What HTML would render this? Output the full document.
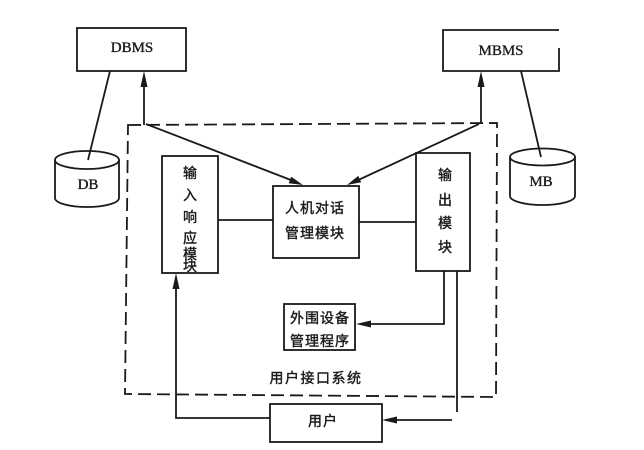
<!DOCTYPE html>
<html><head><meta charset="utf-8"><style>
html,body{margin:0;padding:0;background:#fff;}
svg{display:block;}
.s{font-family:"Liberation Serif",serif;font-size:15px;fill:#1a1a1a;stroke:#1a1a1a;stroke-width:0.35;}
.c{font-family:"Liberation Sans","Noto Sans CJK SC",sans-serif;font-size:14px;fill:#1a1a1a;stroke:#1a1a1a;stroke-width:0.4;}
</style></head><body>
<svg width="644" height="450" viewBox="0 0 644 450" xmlns="http://www.w3.org/2000/svg">
<rect width="644" height="450" fill="#fff"/>
<g stroke="#1a1a1a" stroke-width="1.8" fill="none">
  <path d="M128,125 L497,123 L496,397 L125,394 Z" stroke-dasharray="13 6"/>
  <rect x="77" y="28" width="109" height="43"/>
  <path d="M559,48 L559,71 L443,71 L443,30 L559,30"/>
  <path d="M55,160 L55,198 A32,9 0 0 0 119,198 L119,160"/>
  <ellipse cx="87" cy="160" rx="32" ry="9"/>
  <path d="M510,157 L510,196 A32.5,9 0 0 0 575,196 L575,157"/>
  <ellipse cx="542.5" cy="157" rx="32.5" ry="8.5"/>
  <line x1="110" y1="71" x2="88" y2="160"/>
  <line x1="521" y1="71" x2="541" y2="157"/>
  <line x1="144" y1="125" x2="144" y2="80"/>
  <line x1="481" y1="124" x2="481" y2="80"/>
  <line x1="146" y1="124" x2="296" y2="182"/>
  <line x1="479" y1="124" x2="354" y2="182"/>
  <rect x="162" y="156" width="56" height="117"/>
  <rect x="273" y="186" width="86" height="72"/>
  <rect x="416" y="153" width="54" height="118"/>
  <rect x="284" y="304" width="71" height="46"/>
  <rect x="270" y="404" width="112" height="38"/>
  <line x1="218" y1="220" x2="273" y2="220"/>
  <line x1="359" y1="222" x2="416" y2="222"/>
  <path d="M444,271 L444,324 L366,324"/>
  <path d="M457,271 L457,412"/>
  <line x1="452" y1="420" x2="392" y2="420"/>
  <path d="M270,418 L176,418 L176,283"/>
</g>
<g fill="#1a1a1a">
  <polygon points="144,71 140.5,87 147.5,87"/>
  <polygon points="481,71 477.5,87 484.5,87"/>
  <polygon points="303,185 288.7,183.2 291.2,176.7"/>
  <polygon points="347,185 361.2,182.3 358.2,175.9"/>
  <polygon points="356,324 371,320.5 371,327.5"/>
  <polygon points="382,420 397,416.5 397,423.5"/>
  <polygon points="176,273 172.5,289 179.5,289"/>
</g>
<g dominant-baseline="central" text-anchor="middle">
  <text class="s" x="132" y="48">DBMS</text>
  <text class="s" x="501" y="51">MBMS</text>
  <text class="s" x="88" y="185">DB</text>
  <text class="s" x="541" y="182">MB</text>
  <text class="c" x="190" y="173">输</text>
  <text class="c" x="190" y="195">入</text>
  <text class="c" x="190" y="217">响</text>
  <text class="c" x="190" y="238">应</text>
  <text class="c" x="190" y="254">模</text>
  <text class="c" x="190" y="266">块</text>
  <text class="c" x="445" y="175">输</text>
  <text class="c" x="445" y="200">出</text>
  <text class="c" x="445" y="223">模</text>
  <text class="c" x="445" y="247">块</text>
  <text class="c" x="315" y="208" letter-spacing="1">人机对话</text>
  <text class="c" x="315" y="233" letter-spacing="1">管理模块</text>
  <text class="c" x="320" y="318" letter-spacing="1">外围设备</text>
  <text class="c" x="320" y="341" letter-spacing="1">管理程序</text>
  <text class="c" x="316" y="378" letter-spacing="1.5">用户接口系统</text>
  <text class="c" x="323" y="421" letter-spacing="1">用户</text>
</g>
</svg>
</body></html>
